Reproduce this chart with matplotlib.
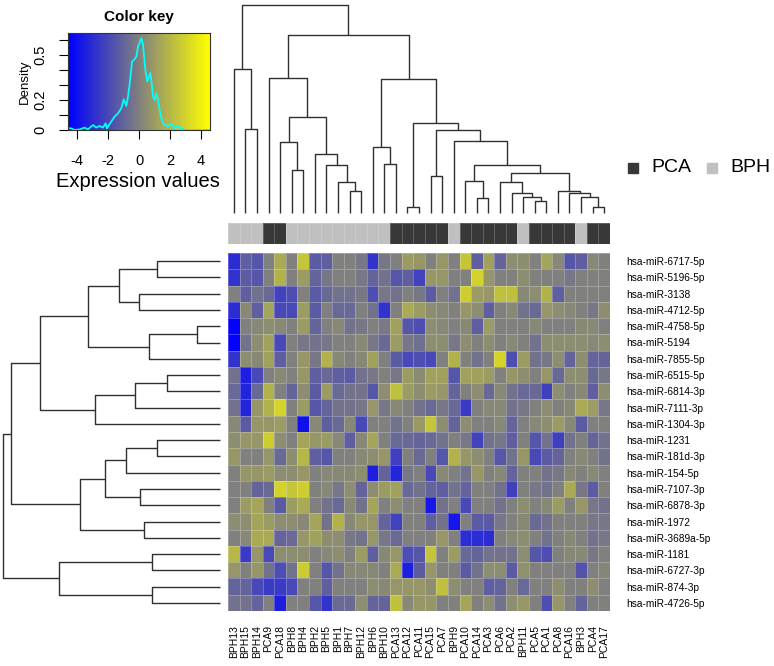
import numpy as np
import matplotlib
matplotlib.use("Agg")
import matplotlib.pyplot as plt
from matplotlib.colors import LinearSegmentedColormap, ListedColormap
from matplotlib.patches import Rectangle

plt.rcParams["font.family"] = ["Liberation Sans", "DejaVu Sans"]
plt.rcParams["axes.unicode_minus"] = False

# ---- data ----
samples = ["BPH13", "BPH15", "BPH14", "PCA9", "PCA18", "BPH8", "BPH4", "BPH2", "BPH5",
           "BPH1", "BPH7", "BPH12", "BPH6", "BPH10", "PCA13", "PCA12", "PCA11", "PCA15",
           "PCA7", "BPH9", "PCA10", "PCA14", "PCA3", "PCA6", "PCA2", "BPH11", "PCA5",
           "PCA1", "PCA8", "PCA16", "BPH3", "PCA4", "PCA17"]

mirnas = ["hsa-miR-6717-5p", "hsa-miR-5196-5p", "hsa-miR-3138", "hsa-miR-4712-5p",
          "hsa-miR-4758-5p", "hsa-miR-5194", "hsa-miR-7855-5p", "hsa-miR-6515-5p",
          "hsa-miR-6814-3p", "hsa-miR-7111-3p", "hsa-miR-1304-3p", "hsa-miR-1231",
          "hsa-miR-181d-3p", "hsa-miR-154-5p", "hsa-miR-7107-3p", "hsa-miR-6878-3p",
          "hsa-miR-1972", "hsa-miR-3689a-5p", "hsa-miR-1181", "hsa-miR-6727-3p",
          "hsa-miR-874-3p", "hsa-miR-4726-5p"]

expr = np.array([
    [-3, -1.2, -1.5, 0, 1.5, 0, 2.5, -1.3, -1.2, 0, 0, -0.3, -2.8, -0.3, 0, 1, 0.8,
     0, 0.8, 0, 2.5, -1.2, 1.2, -1, 0.5, 0.5, 0, 1.3, 0.3, -1.5, -1.2, 0.3, 0],
    [-2.8, -1.3, -1.5, 0, 1.8, 0, 1, -1, -0.3, 0, 0, -0.3, -1, -0.5, -1.5, -1.2, -2.2,
     0.8, 0.8, 0, 0, 3, 0.8, 0, 0, 0.5, 0, 0, 0, -0.3, 0, 0, 0],
    [0, -1.2, -0.5, -0.8, -2.2, -1.8, 0, -1.3, -0.8, -0.5, -0.5, -0.3, -1.8, -0.3, -0.5, 0, -0.3,
     -1.3, 0, -0.5, 2.8, 1, 0.8, 2.3, 2.3, 0.3, 0.5, 1.8, -1.2, 0, 0, 0, 0],
    [-3, 0.3, -1.2, 1.3, -2, -2, 1, -1.3, 0, -0.8, -0.8, 0, -0.5, -2.8, 0, 1.5, 1.0,
     0.5, 0.3, 0, 0.8, 0.5, -1.2, 0, 0.3, -0.5, -0.8, 0.8, 0.5, 0.3, 0, -0.3, 0.5],
    [-4.5, 0, 0.3, 0.5, 0.3, 0, 1, -1, 0, 0.3, -0.5, -0.3, 0, -0.2, 1.2, -1.5, -1.8,
     0.5, 0.3, 0, 0.3, -1.2, 1, 0, 0, 0, 0.3, 0, 0, 0, 0.3, 0.3, 0],
    [-4.5, -0.5, 0.5, 1.2, -2, 0, -0.3, -0.5, -0.3, 0, 0, 0.3, -0.3, -0.8, 1, -0.3, -0.6,
     0.5, 0.5, -0.3, 0.5, 0, 0.5, 0, 0.3, 0, -0.5, 0.5, 0.5, 0.5, 0.5, 0.3, 0.5],
    [-2.8, 0.5, 0.3, 1.2, -1.2, 0, 0.8, -0.3, 1.8, 0.3, 0, 0.3, 1.2, 0, -1.3, -2, -1.8,
     -2, 0, 1.8, 0, -0.5, 0, 3, -1.8, 1, -0.5, -0.3, 0.5, -1, 0.5, -1, -1],
    [-0.5, -3.5, -2, 0, 0.3, 0, 0.8, -1.2, -0.8, -1.2, -1.3, -0.5, -0.3, 0, -0.3, 1, 0.4,
     1.2, 1.2, -1.5, 1.2, 1.2, 1, 0, 0.8, 0.5, 0, 0.8, -0.8, 0.5, 0.5, -0.8, -0.3],
    [-0.8, -3.3, -0.8, 1.8, 0, -1, 0.5, -1.3, 1, -0.8, -0.5, -0.5, -1.5, 0.5, 2.3, 1, 0.5,
     1, 0.8, -1, 0, 0.5, -0.8, 0.3, -0.5, -0.8, -0.8, -2.3, 0.5, 0, 0.3, -1.2, 0.5],
    [-0.5, -3.3, 0.8, 1.8, 3, 0, 1, -1.5, -1, -0.5, -0.5, -0.3, 0.8, -0.3, 0.3, 0, -0.5,
     -0.8, -0.3, -0.8, -2.5, 0, 0.3, 0.3, -0.5, -0.3, 0, 0.5, 0, 0.3, 1.5, 1, -0.3],
    [0.3, -1.3, 0.8, 0.8, 1, 0, -4, 0.3, -1.2, -0.8, 0.3, -2, 0, 0, -0.5, 0, 0.9,
     2.5, 0.5, -1, 0.5, 0, 0, 0.3, -1, 0, 0.3, 0.5, 1, 0.3, -1.3, 0, 0],
    [0.5, 0.8, 0.8, 2.8, 0.5, 0, 1.3, 0.8, 1, 0.3, -1.2, 0.3, 1.3, 0, -0.8, -0.8, -1,
     -0.8, -0.5, 0, -0.3, -2.2, -0.5, -0.3, -1.2, 0, -1.5, -0.5, -2.3, -0.5, 0, -1, -0.5],
    [0.8, 0, 0, 0.8, -0.8, 0.5, 2, -1.2, -1.5, 0, 0, 0.3, 0.5, 0.8, -2.3, 0, -0.8,
     0, -1.5, 1.8, 0.8, 0.5, 0, -1.5, -0.5, 0.8, -2, -1.3, -1, 0, 0.3, 0, -0.5],
    [0, 0.8, 0.8, 1, 0.5, 0.5, 0.8, 0, 0.3, 0.3, 0.3, 0.5, -3.5, -1, -3.3, -0.3, 0,
     -2, 0.3, 0, -0.5, 0.8, 0, 0.3, -1, 0, 0, -0.5, -0.3, 0.3, 0, 0.3, 0],
    [0, 0, -1, -0.8, 3, 2.5, 2.8, 0, 0.3, -0.3, 0.5, -1, 0.5, 1, 1.2, -0.8, -0.5,
     -1, -1.2, -0.5, -1, 0, 0, -0.5, -2.3, 0, -0.3, -0.5, 0, 1.5, -0.3, -1.3, 0],
    [0, 1, 1.3, 0, -1.3, 1, 1.5, 0, -0.5, -0.8, 0.3, -0.5, 1.3, 0, 0.5, 0, 0,
     -3.8, -0.5, 0, -2, 0, 0, -0.5, 0, 0.5, 0, 0.3, 1, 0, 0.8, -0.3, -0.5],
    [0.5, 0.5, 1.3, 1, 0.5, 0.5, 0.3, 1.3, -0.5, 1.8, 0.3, 0.8, 0.8, -1, -2.2, 0, 0,
     -1.2, -0.5, -3.8, 0, -1.3, -1.3, -0.3, 0, 0.3, -0.8, -0.5, 0, 0, 0, -0.3, -0.3],
    [0, 0.3, 1.5, 1.5, -1, -0.8, 0.8, 1.2, 0.5, 0.5, -0.3, -0.5, 0.8, -0.3, -0.8, 0, 0,
     0, 0.8, 0, -3, -3, -3, 0, 0.3, 0.5, 0, -0.5, 0, 0.3, 0, -0.5, -0.3],
    [2, -2.5, 0.8, -2, 0.5, 0.5, 0.5, 0, 0.3, 0.5, 0, 1, -1.2, 0.3, 0.8, -1.8, -1.5,
     2.5, 0, 1, -0.8, -1, -0.5, -0.5, -0.5, 0.5, -1.5, -1.8, 0, 0.3, 0.3, -0.3, 0],
    [0.8, 0, 0.8, -0.5, -1.8, -0.5, 2.7, 0, -1.5, -0.5, 0.3, 0.3, 0.3, 0, 1.5, -3.5, -1.3,
     0.8, 0, 0, -1.3, -0.5, 0.5, 0.5, -1.3, 0.6, 0, 0, 0, 0, -1.6, 0, 0.2],
    [-1, -1, -2, -2.5, -2.5, -2, 0, 0, -1.2, 0, 0, 0, 0.5, 0.3, 0.8, 0.8, 0.8,
     0.5, 2.3, 0.5, 0, 0, -1.2, -1, 0, -0.8, 0, 0, 0.5, 0, 0, 0.5, 0],
    [-0.5, -0.5, -1, 0, -3.5, 0, 0, -1.5, -2.8, -0.8, -0.8, 0.5, -1, -1, 2.3, 0.3, 0.8,
     0.8, 0, 0, 1.3, 0, 0.5, -0.5, 0.5, 0.8, 0, -1.8, 0.8, 0, -1, 0, 0],
])

# dendrograms: (height, left, right), leaves are column/row indices
col_tree = (625, (432, 0, (252, 1, 2)),
            (535, (405, 3, (288, (213, 4, (130, 5, 6)),
                            (178, 7, (145, 8, (95, 9, (67, 10, 11)))))),
             (402, (198, 12, (147, 13, 14)),
              (272, (18, 15, 16),
               (250, (112, 17, 18),
                (217, 19,
                 (145, (97, 20, (47, 21, 22)),
                  (122, (95, 23, (60, 24, (50, 25, (38, 26, 27)))),
                   (67, 28, (60, 29, (50, 30, (18, 31, 32))))))))))))

row_tree = (652, (626, (539, (396, (304, (189, 0, 1), (244, 2, 3)), (213, (68, 4, 5), 6)),
                        (376, (256, (158, 7, 8), 9), 10)),
                  (419, (344, (282, (190, 11, 12), 13), (239, 14, 15)), (229, 16, 17))),
            (482, (203, 18, 19), (203, 20, 21)))

# density trace of the colour key
key_x = [-4.61, -4.39, -4.17, -3.85, -3.52, -3.31, -2.98, -2.77, -2.55, -2.34,
         -2.16, -2.08, -1.90, -1.58, -1.36, -1.15, -0.99, -0.82, -0.71, -0.61,
         -0.45, -0.28, -0.17, -0.06, 0.04, 0.15, 0.26, 0.32, 0.41, 0.54,
         0.65, 0.74, 0.82, 0.91, 1.02, 1.12, 1.23, 1.34, 1.45, 1.56,
         1.73, 1.88, 2.10, 2.31, 2.53, 2.75, 2.96, 4.58]
key_density = [0.011, 0.011, 0, 0.004, 0.016, 0.004, 0.033, 0.016, 0.027, 0.016,
               0.044, 0.011, 0.04, 0.089, 0.111, 0.144, 0.204, 0.16, 0.222, 0.3,
               0.456, 0.471, 0.489, 0.556, 0.578, 0.611, 0.567, 0.5, 0.4, 0.322,
               0.356, 0.378, 0.311, 0.222, 0.2, 0.244, 0.2, 0.133, 0.078, 0.044,
               0.033, 0.022, 0.044, 0.011, 0.027, 0.011, 0, 0]

group_names = ["PCA", "BPH"]

VMAX = 4.6
W, H = 774, 666
cmap = LinearSegmentedColormap.from_list("byg", ["#0000FF", "#808080", "#FFFF00"])
PCA_COL, BPH_COL = "#383838", "#C0C0C0"
LINE = "#303030"


def rect(x0, y0, x1, y1):
    # pixel box (top-left origin) -> figure fraction
    return [x0 / W, 1 - y1 / H, (x1 - x0) / W, (y1 - y0) / H]


def draw_tree(ax, node, top=True):
    if isinstance(node, int):
        return node + 0.5, 0
    h, a, b = node
    pa, ha = draw_tree(ax, a, top)
    pb, hb = draw_tree(ax, b, top)
    pos = [pa, pa, pb, pb]
    hts = [ha, h, h, hb]
    if top:
        ax.plot(pos, hts, color=LINE, lw=1.0, clip_on=False, solid_capstyle="butt")
    else:
        ax.plot(hts, pos, color=LINE, lw=1.0, clip_on=False, solid_capstyle="butt")
    return (pa + pb) / 2, h


fig = plt.figure(figsize=(W / 100, H / 100), dpi=100)

# heatmap
ax = fig.add_axes(rect(228, 253, 610, 611))
ax.pcolormesh(np.arange(len(samples) + 1), np.arange(len(mirnas) + 1), expr,
              cmap=cmap, vmin=-VMAX, vmax=VMAX,
              edgecolors=(1, 1, 1, 0.25), linewidth=0.5)
ax.set_xlim(0, len(samples))
ax.set_ylim(len(mirnas), 0)
for s in ax.spines.values():
    s.set_visible(False)
ax.set_xticks(np.arange(len(samples)) + 0.5)
ax.set_xticklabels(samples, rotation=90, fontsize=7.5)
ax.set_yticks(np.arange(len(mirnas)) + 0.5)
ax.set_yticklabels(mirnas, fontsize=7.3)
ax.yaxis.tick_right()
ax.tick_params(axis="x", length=0, pad=10)
ax.tick_params(axis="y", length=0, pad=11.5)

# side colours
groups = np.array([[1 if s.startswith("PCA") else 0 for s in samples]])
axc = fig.add_axes(rect(228, 223, 610, 244))
axc.pcolormesh(np.arange(len(samples) + 1), [0, 1], groups,
               cmap=ListedColormap([BPH_COL, PCA_COL]), vmin=0, vmax=1,
               edgecolors=(1, 1, 1, 0.2), linewidth=0.5)
axc.set_xlim(0, len(samples))
axc.axis("off")

# column dendrogram
axd = fig.add_axes(rect(228, 5, 610, 213.3))
draw_tree(axd, col_tree, top=True)
axd.set_xlim(0, len(samples))
axd.set_ylim(0, col_tree[0])
axd.axis("off")

# row dendrogram
axr = fig.add_axes(rect(2.7, 253, 220, 611))
draw_tree(axr, row_tree, top=False)
axr.set_xlim(row_tree[0], 0)
axr.set_ylim(len(mirnas), 0)
axr.axis("off")

# colour key
axk = fig.add_axes(rect(68, 33, 210, 130))
grad = np.linspace(-VMAX, VMAX, 256)[None, :]
axk.imshow(grad, cmap=cmap, vmin=-VMAX, vmax=VMAX, aspect="auto",
           extent=[-VMAX, VMAX, 0, 0.645], origin="lower")
axk.plot(key_x, key_density, color="cyan", lw=1.3)
axk.set_xlim(-VMAX, VMAX)
axk.set_ylim(0, 0.645)
axk.set_xticks([-4, -2, 0, 2, 4])
axk.set_xticklabels(["-4", "-2", "0", "2", "4"], fontsize=10.5)
axk.set_yticks([0, 0.1, 0.2, 0.3, 0.4, 0.5, 0.6])
axk.set_yticklabels(["0", "", "0.2", "", "", "0.5", ""], fontsize=10.5,
                    rotation=90, va="center")
axk.tick_params(axis="x", length=6.5, width=0.8, pad=11)
axk.tick_params(axis="y", length=6.5, width=0.8, pad=8)
for s in axk.spines.values():
    s.set_linewidth(0.8)
    s.set_color("#333333")
axk.set_ylabel("Density", fontsize=9.5, labelpad=2)
fig.text(139 / W, 1 - 17 / H, "Color key", fontsize=11, fontweight="bold",
         ha="center", va="center")
fig.text(138 / W, 1 - 182 / H, "Expression values", fontsize=14.5,
         ha="center", va="center")

# legend (squares + labels)
for name, col, x0 in zip(group_names, [PCA_COL, BPH_COL], [628, 707]):
    fig.patches.append(Rectangle((x0 / W, 1 - 172.5 / H), 9.5 / W, 9.5 / H,
                                 transform=fig.transFigure, color=col))
    fig.text((x0 + 23.5) / W, 1 - 168 / H, name, fontsize=14,
             ha="left", va="center")

fig.savefig("out.png", dpi=100)
